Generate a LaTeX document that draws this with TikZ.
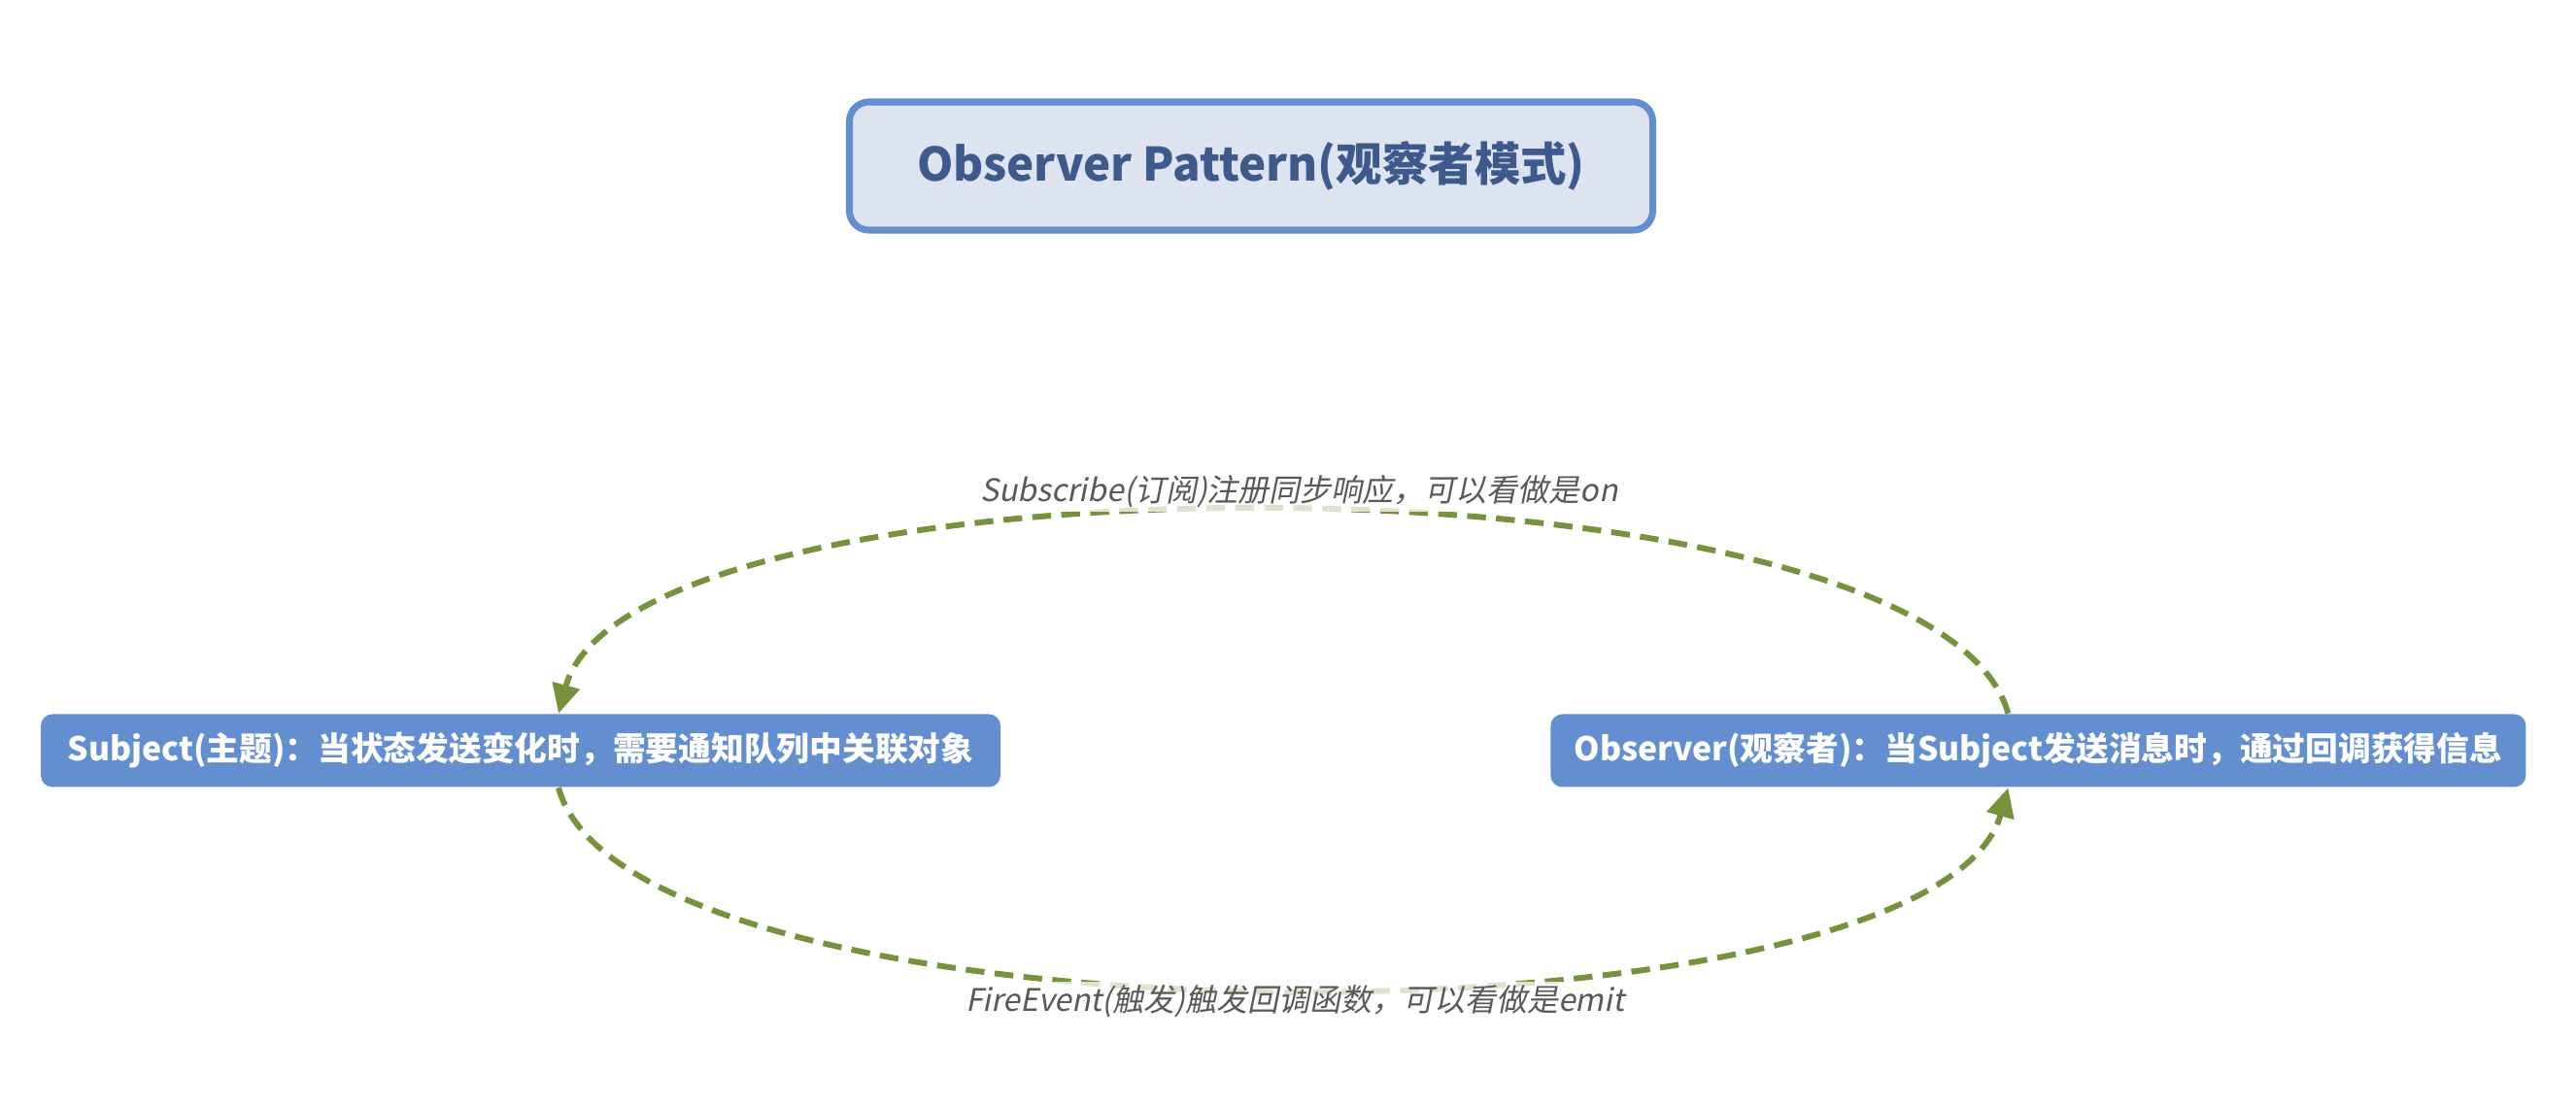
\documentclass[tikz,border=0pt]{standalone}
\usepackage{fontspec}
\usepackage{xcolor}
\usepackage{tikz}
\usetikzlibrary{arrows.meta, positioning}

\newfontfamily\yahei{Noto Sans CJK SC}
\newfontfamily\yaheislant{Noto Sans CJK SC}[FakeSlant=0.2]

\definecolor{nodeblue}{RGB}{99,142,208}
\definecolor{titlefill}{RGB}{221,228,240}
\definecolor{titletext}{RGB}{62,90,140}
\definecolor{flowgreen}{RGB}{118,146,60}
\definecolor{labelgray}{RGB}{89,89,89}

\begin{document}
\begin{tikzpicture}[
    title/.style={rectangle, draw=nodeblue, line width=2pt, fill=titlefill, rounded corners=0.2cm, minimum height=1.32cm, minimum width=8.27cm, align=center, text=titletext, font=\yahei\bfseries\fontsize{13.5}{16}\selectfont},
    entity/.style={rectangle, fill=nodeblue, rounded corners=0.12cm, minimum height=0.75cm, inner xsep=0.05cm, align=center, text=white, font=\yahei\bfseries\fontsize{9.6}{12}\selectfont},
    flow/.style={draw=flowgreen, line width=1.7pt, dash pattern=on 5.5pt off 3pt, -{Triangle[length=0.3cm, width=0.28cm]}},
    flowlabel/.style={fill=white, fill opacity=0.75, text opacity=1, text=labelgray, inner sep=1pt, font=\yaheislant\fontsize{9.1}{11}\selectfont},
]
    \useasboundingbox (0,0) rectangle (26.52,11.4);

    % Title
    \node[title] (pattern) at (12.88,9.69) {Observer Pattern(观察者模式)};

    % Participants
    \node[entity, minimum width=9.88cm] (subject) at (5.36,3.67) {Subject(主题)：当状态发送变化时，需要通知队列中关联对象};
    \node[entity, minimum width=10.04cm, right=5.65cm of subject] (observer) {Observer(观察者)：当Subject发送消息时，通过回调获得信息};

    % Subscribe / fire
    \draw[flow] ([xshift=-0.31cm]observer.north) .. controls (19.9,6.83) and (6.5,6.83) .. ([xshift=0.39cm]subject.north)
        node[flowlabel, pos=0.5, xshift=0.17cm, yshift=0.2cm] (subscribe) {Subscribe(订阅)注册同步响应，可以看做是on};
    \draw[flow] ([xshift=0.39cm]subject.south) .. controls (6.5,0.53) and (19.9,0.53) .. ([xshift=-0.31cm]observer.south)
        node[flowlabel, pos=0.5, xshift=0.13cm, yshift=-0.13cm] (fire) {FireEvent(触发)触发回调函数，可以看做是emit};
\end{tikzpicture}
\end{document}
